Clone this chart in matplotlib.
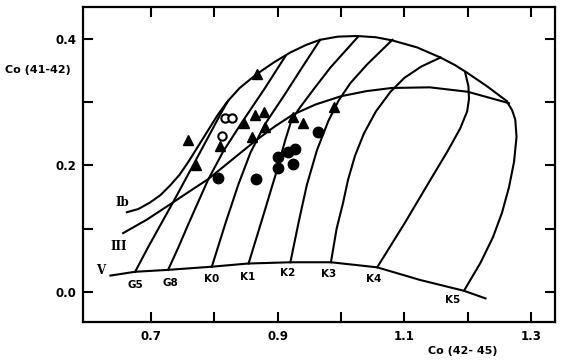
import numpy as np
import matplotlib.pyplot as plt

# luminosity class sequences (x = Co(42-45), y = Co(41-42))
seq_V_x = [0.636, 0.675, 0.727, 0.796, 0.853, 0.920, 0.984, 1.057, 1.125, 1.194, 1.228]
seq_V_y = [0.026, 0.032, 0.035, 0.040, 0.045, 0.047, 0.047, 0.039, 0.019, 0.002, -0.010]

seq_III_x = [0.656, 0.693, 0.725, 0.758, 0.790, 0.827, 0.864, 0.895, 0.924, 0.960,
             1.000, 1.040, 1.080, 1.140, 1.200, 1.265]
seq_III_y = [0.093, 0.114, 0.135, 0.157, 0.178, 0.208, 0.238, 0.261, 0.280, 0.296,
             0.309, 0.317, 0.322, 0.323, 0.316, 0.298]

seq_Ib_x = [0.662, 0.680, 0.698, 0.715, 0.730, 0.745, 0.760, 0.775, 0.790, 0.805,
            0.820, 0.840, 0.867, 0.895, 0.920, 0.945, 0.967, 0.995, 1.025, 1.055,
            1.081, 1.120, 1.157, 1.180, 1.199, 1.230, 1.262]
seq_Ib_y = [0.126, 0.131, 0.141, 0.153, 0.168, 0.185, 0.207, 0.231, 0.255, 0.279,
            0.300, 0.322, 0.344, 0.363, 0.378, 0.390, 0.398, 0.403, 0.404, 0.402,
            0.397, 0.386, 0.370, 0.358, 0.346, 0.325, 0.301]

# spectral type lines
sp_types = ["G5", "G8", "K0", "K1", "K2", "K3", "K4", "K5"]
sp_x = [
    [0.675, 0.695, 0.715, 0.735, 0.754, 0.775, 0.797, 0.812, 0.822],
    [0.727, 0.743, 0.758, 0.774, 0.790, 0.814, 0.845, 0.880, 0.912],
    [0.796, 0.807, 0.818, 0.838, 0.857, 0.880, 0.910, 0.937, 0.967],
    [0.854, 0.877, 0.899, 0.912, 0.922, 0.935, 0.956, 0.983, 1.027],
    [0.920, 0.933, 0.946, 0.962, 0.980, 0.996, 1.015, 1.041, 1.081],
    [0.984, 0.993, 1.003, 1.011, 1.022, 1.036, 1.055, 1.078, 1.100, 1.127, 1.157],
    [1.057, 1.100, 1.141, 1.168, 1.188, 1.199, 1.202, 1.201, 1.196],
    [1.194, 1.220, 1.240, 1.254, 1.265, 1.273, 1.277, 1.275, 1.270, 1.262],
]
sp_y = [
    [0.032, 0.070, 0.106, 0.142, 0.177, 0.216, 0.257, 0.285, 0.302],
    [0.035, 0.070, 0.105, 0.141, 0.177, 0.222, 0.270, 0.322, 0.372],
    [0.040, 0.075, 0.110, 0.170, 0.220, 0.265, 0.310, 0.352, 0.398],
    [0.045, 0.120, 0.193, 0.240, 0.272, 0.291, 0.319, 0.354, 0.403],
    [0.047, 0.110, 0.169, 0.224, 0.270, 0.302, 0.330, 0.359, 0.398],
    [0.047, 0.100, 0.140, 0.177, 0.215, 0.250, 0.285, 0.316, 0.338, 0.356, 0.370],
    [0.039, 0.108, 0.177, 0.222, 0.258, 0.285, 0.305, 0.325, 0.346],
    [0.002, 0.046, 0.087, 0.125, 0.165, 0.205, 0.245, 0.272, 0.287, 0.300],
]
sp_label_x = [0.675, 0.730, 0.796, 0.853, 0.916, 0.980, 1.051, 1.176]
sp_label_y = [0.011, 0.015, 0.020, 0.024, 0.030, 0.028, 0.020, -0.012]

# observed stars
tri_x = [0.867, 0.758, 0.771, 0.809, 0.847, 0.864, 0.879, 0.860, 0.880, 0.924, 0.940, 0.989]
tri_y = [0.344, 0.240, 0.201, 0.231, 0.267, 0.280, 0.284, 0.245, 0.261, 0.276, 0.267, 0.292]
dot_x = [0.806, 0.866, 0.901, 0.901, 0.916, 0.927, 0.924, 0.964]
dot_y = [0.180, 0.179, 0.213, 0.196, 0.221, 0.226, 0.202, 0.253]
ring_x = [0.817, 0.828, 0.812]
ring_y = [0.275, 0.275, 0.246]

fig = plt.figure(figsize=(5.7, 3.6), dpi=100)
ax = fig.add_axes([0.146, 0.106, 0.828, 0.875])

lw = 1.5
ax.plot(seq_V_x, seq_V_y, 'k-', lw=lw, solid_joinstyle='round')
ax.plot(seq_III_x, seq_III_y, 'k-', lw=lw, solid_joinstyle='round')
ax.plot(seq_Ib_x, seq_Ib_y, 'k-', lw=lw, solid_joinstyle='round')
for xs, ys in zip(sp_x, sp_y):
    ax.plot(xs, ys, 'k-', lw=lw, solid_joinstyle='round')

for lab, x, y in zip(sp_types, sp_label_x, sp_label_y):
    ax.text(x, y, lab, ha='center', va='center', fontsize=7.5, fontweight='bold')

ax.text(0.655, 0.141, "Ib", ha='center', va='center', fontsize=8.5,
        fontweight='bold', family='DejaVu Serif')
ax.text(0.649, 0.072, "III", ha='center', va='center', fontsize=8.5,
        fontweight='bold', family='DejaVu Serif')
ax.text(0.621, 0.034, "V", ha='center', va='center', fontsize=8.5,
        fontweight='bold', family='DejaVu Serif')

ax.plot(tri_x, tri_y, '^', color='k', ms=7, ls='none')
ax.plot(dot_x, dot_y, 'o', color='k', ms=7.5, ls='none')
ax.plot(ring_x, ring_y, 'o', mfc='white', mec='k', mew=1.5, ms=6, ls='none')

ax.set_xlim(0.593, 1.338)
ax.set_ylim(-0.047, 0.450)
ax.set_xticks([0.7, 0.8, 0.9, 1.0, 1.1, 1.2, 1.3])
ax.set_xticklabels(["0.7", "", "0.9", "", "1.1", "", "1.3"])
ax.set_yticks([0.0, 0.1, 0.2, 0.3, 0.4])
ax.set_yticklabels(["0.0", "", "0.2", "", "0.4"])
ax.tick_params(direction='in', length=7, width=1.5, top=True, right=True,
               labelsize=8.5)
ax.tick_params(axis='x', pad=6)
ax.tick_params(axis='y', pad=5)
for lbl in ax.get_xticklabels() + ax.get_yticklabels():
    lbl.set_fontweight('bold')
for s in ax.spines.values():
    s.set_linewidth(1.6)

fig.text(5 / 570, 1 - 70 / 360, "Co (41-42)", ha='left', va='center',
         fontsize=8, fontweight='bold')
fig.text(463 / 570, 1 - 351 / 360, "Co (42- 45)", ha='center', va='center',
         fontsize=8, fontweight='bold')

fig.savefig('out.png', dpi=100)
